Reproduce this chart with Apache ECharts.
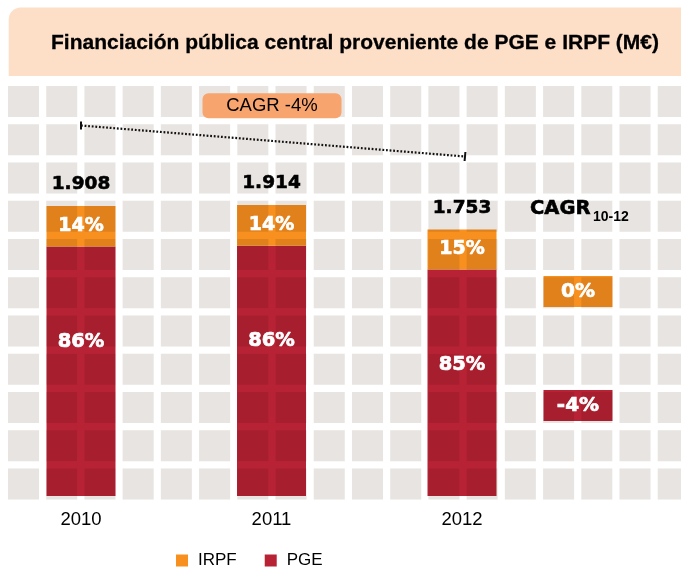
<!DOCTYPE html>
<html><head><meta charset="utf-8">
<script src="https://cdn.jsdelivr.net/npm/echarts@6/dist/echarts.min.js"></script>
<style>html,body{margin:0;padding:0;background:#fff}#c{width:681px;height:570px}</style>
</head><body><div id="c"></div>
<script>
// ---- data ----
const years = ['2010', '2011', '2012'];
const pge = [1641, 1646, 1490];
const irpf = [267, 268, 263];
const cagrNames = ['IRPF', 'PGE'];
const cagrValues = ['0%', '-4%'];
const cagrTotal = 'CAGR -4%';
const titleText = 'Financiación pública central proveniente de PGE e IRPF (M€)';

// ---- styles ----
const RED = '#B82235', ORANGE = '#F7901E', TILE = '#E8E4E1';
const BOLD = '"DejaVu Sans", sans-serif';
const SANS = '"Liberation Sans", Arial, Helvetica, sans-serif';

const totals = pge.map((v, i) => v + irpf[i]);
const fmt = n => { const s = String(Math.round(n)); return s.length > 3 ? s.slice(0, -3) + '.' + s.slice(-3) : s; };
const pct = (v, t) => Math.round(v / t * 100) + '%';

const chart = echarts.init(document.getElementById('c'), null, { renderer: 'canvas' });

const whiteLbl = { color: '#fff', fontFamily: BOLD, fontWeight: 'bold', textBorderColor: '#fff', textBorderWidth: 0.7 };

const option = {
  backgroundColor: '#fff',
  animation: false,
  grid: { left: 81, right: 219, top: 192, bottom: 74, containLabel: false },
  xAxis: {
    type: 'category', data: years, boundaryGap: false,
    axisLine: { show: false }, axisTick: { show: false }, splitLine: { show: false },
    axisLabel: { color: '#000', fontSize: 18.5, fontFamily: SANS, margin: 14 }
  },
  yAxis: { type: 'value', min: 0, max: 2000, show: false, splitLine: { show: false } },
  legend: {
    data: ['IRPF', 'PGE'], left: 176, top: 552, padding: 0,
    itemWidth: 12, itemHeight: 12, itemGap: 28, icon: 'rect',
    textStyle: { color: '#000', fontSize: 17, fontFamily: SANS, padding: [0, 0, 0, 5] }
  },
  series: [
    { name: 'PGE', type: 'bar', stack: 'a', data: pge, barWidth: 69, z: 2, clip: false,
      itemStyle: { color: RED }, silent: true },
    { name: 'IRPF', type: 'bar', stack: 'a', data: irpf, barWidth: 69, z: 2, clip: false,
      itemStyle: { color: ORANGE }, silent: true },
    { name: 'pgeLbl', type: 'bar', stack: 'b', data: pge, barWidth: 69, barGap: '-100%', z: 10, clip: false,
      itemStyle: { color: 'rgba(0,0,0,0)' }, silent: true,
      label: Object.assign({ show: true, position: 'insideTop', distance: 85, fontSize: 19.5,
        formatter: p => pct(pge[p.dataIndex], totals[p.dataIndex]) }, whiteLbl) },
    { name: 'irpfLbl', type: 'bar', stack: 'b', data: irpf, barWidth: 69, barGap: '-100%', z: 10, clip: false,
      itemStyle: { color: 'rgba(0,0,0,0)' }, silent: true,
      label: Object.assign({ show: true, position: 'inside', fontSize: 19,
        formatter: p => pct(irpf[p.dataIndex], totals[p.dataIndex]) }, whiteLbl) },
    { name: 'total', type: 'scatter', data: totals, symbolSize: 0, z: 10, silent: true, clip: false,
      itemStyle: { opacity: 1 },
      label: { show: true, position: 'top', distance: 12, color: '#000', fontFamily: BOLD, fontWeight: 'bold', fontSize: 18.5,
        textBorderColor: '#000', textBorderWidth: 0.6,
        formatter: p => fmt(p.value) } }
  ]
};
chart.setOption(option);

// decorations
const g = [];
g.push({ type: 'rect', z: 0, shape: { x: 8.7, y: 7.5, width: 680, height: 68.5, r: [12, 0, 0, 0] }, style: { fill: '#FDDFC8' } });
g.push({ type: 'text', z: 1, x: 51, y: 43, style: { text: titleText, fill: '#000', fontFamily: SANS, fontWeight: 'bold', fontSize: 21, align: 'left', verticalAlign: 'middle', stroke: '#000', lineWidth: 0.3 } });
for (let j = 0; j < 11; j++) {
  for (let i = 0; i < 18; i++) {
    g.push({ type: 'rect', z: 3, silent: true,
      shape: { x: 8 + 38.22 * i, y: 86 + 38.25 * j, width: 31, height: 31 },
      style: { fill: TILE, blend: 'multiply' } });
  }
}
const x0 = chart.convertToPixel({ xAxisIndex: 0 }, years[0]);
const x1 = chart.convertToPixel({ xAxisIndex: 0 }, years[1]);
const x2 = chart.convertToPixel({ xAxisIndex: 0 }, years[2]);
// CAGR growth line
g.push({ type: 'polyline', z: 20, shape: { points: [[x0, 125.5], [x2 + 3, 156.5]] }, style: { stroke: '#111', lineWidth: 2.2, lineDash: [1.8, 1.8], fill: null } });
g.push({ type: 'line', z: 20, shape: { x1: x0, y1: 121.5, x2: x0, y2: 129.5 }, style: { stroke: '#111', lineWidth: 2 } });
g.push({ type: 'line', z: 20, shape: { x1: x2 + 3.4, y1: 152, x2: x2 + 2.6, y2: 161 }, style: { stroke: '#111', lineWidth: 2 } });
// CAGR total box
g.push({ type: 'rect', z: 20, shape: { x: x1 - 69, y: 93.3, width: 139, height: 25, r: 6 }, style: { fill: '#F8A46E' } });
g.push({ type: 'text', z: 21, x: x1 + 0.5, y: 106, style: { text: cagrTotal, fill: '#000', fontFamily: SANS, fontSize: 18.5, align: 'center', verticalAlign: 'middle' } });
// CAGR 10-12 column
g.push({ type: 'text', z: 21, x: 530, y: 208.5, style: { text: 'CAGR', fill: '#000', fontFamily: BOLD, fontWeight: 'bold', fontSize: 19.5, align: 'left', verticalAlign: 'middle', stroke: '#000', lineWidth: 0.6 } });
g.push({ type: 'text', z: 21, x: 593, y: 217, style: { text: '10-12', fill: '#000', fontFamily: SANS, fontWeight: 'bold', fontSize: 14, align: 'left', verticalAlign: 'middle' } });
const boxY = [276, 390];
cagrValues.forEach((v, k) => {
  g.push({ type: 'rect', z: 1, shape: { x: 543.5, y: boxY[k], width: 69, height: 31 }, style: { fill: k === 0 ? ORANGE : RED } });
  g.push({ type: 'text', z: 21, x: 578, y: boxY[k] + 16, style: { text: v, fill: '#fff', fontFamily: BOLD, fontWeight: 'bold', fontSize: 20, align: 'center', verticalAlign: 'middle', stroke: '#fff', lineWidth: 0.7 } });
});
chart.setOption({ graphic: { elements: g } });
</script></body></html>
